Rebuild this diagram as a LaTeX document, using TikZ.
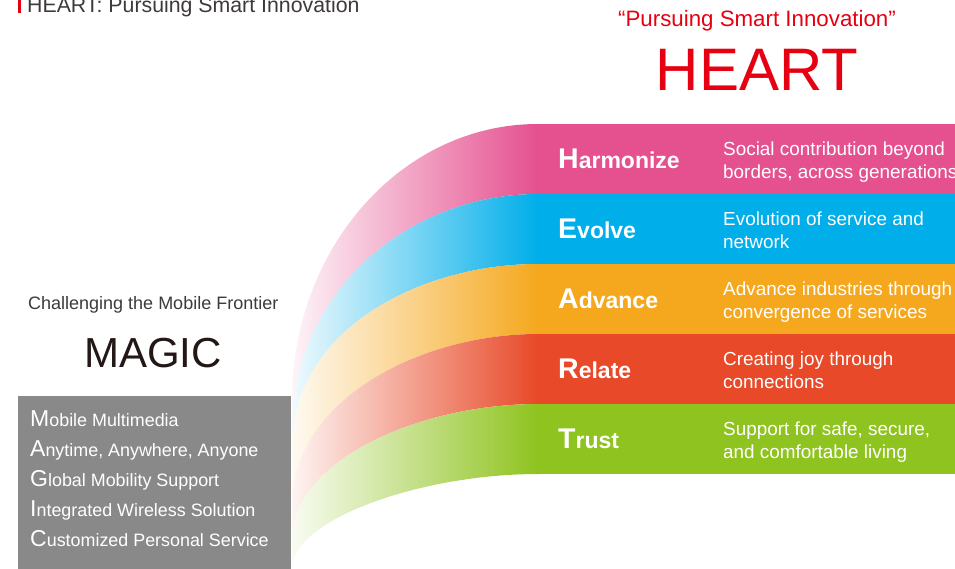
\documentclass[tikz,border=0pt]{standalone}
\usepackage{fontspec}
\setmainfont{Liberation Sans}
\definecolor{pkc}{HTML}{E5508F}
\definecolor{blc}{HTML}{00AEE9}
\definecolor{orc}{HTML}{F5A81E}
\definecolor{rdc}{HTML}{E84928}
\definecolor{grc}{HTML}{8FC31F}
\definecolor{boxgray}{HTML}{898989}
\definecolor{txtgray}{HTML}{3E3A39}
\definecolor{heartred}{HTML}{E60012}
\definecolor{darktxt}{HTML}{231815}
\newcommand\mkinit[1]{{\fontsize{23}{30}\selectfont #1}}
\newcommand\lblinit[1]{{\fontsize{28.5}{30}\selectfont #1}}
\tikzset{
  band/.style={white, font=\bfseries\fontsize{23}{28}\selectfont, anchor=base west, inner sep=0pt},
  desc/.style={white, font=\fontsize{18.9}{23}\selectfont, anchor=base west, inner sep=0pt, align=left},
  fade/.style={left color=#1!6, middle color=#1!45, right color=#1},
}
\begin{document}
\begin{tikzpicture}[x=1pt,y=-1pt]
\useasboundingbox (0,0) rectangle (955,568);
\clip (0,0) rectangle (955,568);
\fill[white] (0,0) rectangle (955,568);

% top-left title
\fill[heartred] (18,0) rectangle (21,13);
\node[anchor=base west, inner sep=0pt, text=txtgray, font=\fontsize{21.3}{24}\selectfont] (title) at (27,12) {HEART: Pursuing Smart Innovation};

% right heading
\node[anchor=base, inner sep=0pt, text=heartred, font=\fontsize{22.3}{26}\selectfont] (quote) at (757,26.7) {“Pursuing Smart Innovation”};
\node[anchor=base, inner sep=0pt, text=heartred, font=\fontsize{60}{64}\selectfont] (heart) at (757,90) {HEART};

% left heading
\node[anchor=base west, inner sep=0pt, text=txtgray, font=\fontsize{18}{22}\selectfont] (chal) at (28,309) {Challenging the Mobile Frontier};
\node[anchor=base, inner sep=0pt, text=darktxt, font=\fontsize{42}{46}\selectfont] (magic) at (153,367) {MAGIC};

% gray box
\fill[boxgray] (18,396) rectangle (291,570);
\node[anchor=base west, inner sep=0pt, text=white, align=left, font=\fontsize{17.9}{30}\selectfont] (list) at (30,546)
{\mkinit{M}obile Multimedia\\
 \mkinit{A}nytime, Anywhere, Anyone\\
 \mkinit{G}lobal Mobility Support\\
 \mkinit{I}ntegrated Wireless Solution\\
 \mkinit{C}ustomized Personal Service};

% curved bands
\shade[fade=pkc]
  (538,124) .. controls (400,124) and (292,250) .. (292,400)
  -- (292,430) .. controls (292,290) and (410,194) .. (538,194) -- cycle;
\shade[fade=blc]
  (538,194) .. controls (410,194) and (292,290) .. (292,430)
  -- (292,447) .. controls (292,330) and (420,264) .. (538,264) -- cycle;
\shade[fade=orc]
  (538,264) .. controls (420,264) and (292,330) .. (292,447)
  -- (292,505) .. controls (292,400) and (420,334) .. (538,334) -- cycle;
\shade[fade=rdc]
  (538,334) .. controls (420,334) and (292,400) .. (292,505)
  -- (292,540) .. controls (292,460) and (420,404) .. (538,404) -- cycle;
\shade[fade=grc]
  (538,404) .. controls (420,404) and (292,460) .. (292,540)
  -- (292,568) .. controls (292,520) and (420,474) .. (538,474) -- cycle;

% right bars
\fill[pkc] (537.5,124) rectangle (960,194);
\fill[blc] (537.5,194) rectangle (960,264);
\fill[orc] (537.5,264) rectangle (960,334);
\fill[rdc] (537.5,334) rectangle (960,404);
\fill[grc] (537.5,404) rectangle (960,474);

% labels
\node[band] (harm) at (558,168) {\lblinit{H}armonize};
\node[band] (evol) at (558,238) {\lblinit{E}volve};
\node[band] (adv)  at (558,308) {\lblinit{A}dvance};
\node[band] (rel)  at (558,378) {\lblinit{R}elate};
\node[band] (tru)  at (558,448) {\lblinit{T}rust};

% descriptions (anchored at the baseline of the second line)
\node[desc] (dharm) at (723,178) {Social contribution beyond\\borders, across generations};
\node[desc] (devol) at (723,248) {Evolution of service and\\network};
\node[desc] (dadv)  at (723,318) {Advance industries through\\convergence of services};
\node[desc] (drel)  at (723,388) {Creating joy through\\connections};
\node[desc] (dtru)  at (723,458) {Support for safe, secure,\\and comfortable living};
\end{tikzpicture}
\end{document}
